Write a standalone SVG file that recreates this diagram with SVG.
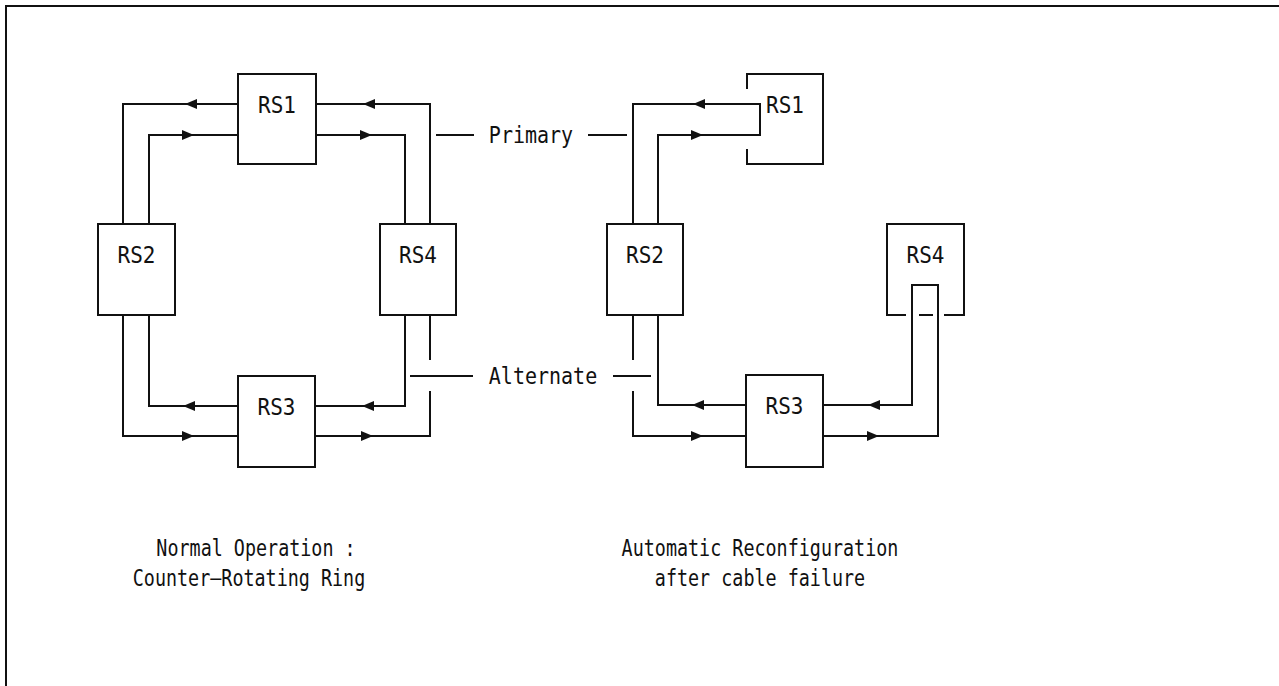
<svg xmlns="http://www.w3.org/2000/svg" xmlns:xlink="http://www.w3.org/1999/xlink" width="1279" height="686" viewBox="0 0 1279 686">
<style>
.ln{fill:none;stroke:#111;stroke-width:2;stroke-linecap:square}
.bx{fill:#fff;stroke:#111;stroke-width:2}
.t{font-family:"DejaVu Sans Mono","Liberation Mono",monospace;font-size:20px;fill:#111}
.c{text-anchor:middle}
.ah{fill:#111}
</style>
<defs>
<polygon id="ar" points="0,0 -12,-5 -12,5"/>
<polygon id="al" points="0,0 12,-5 12,5"/>
</defs>
<rect width="1279" height="686" fill="#fff"/>
<path class="ln" d="M6,686 V6 H1279"/>
<g id="connectors">
<path class="ln" d="M238,104 H123 V224"/>
<path class="ln" d="M149,224 V135 H238"/>
<path class="ln" d="M430,224 V104 H316"/>
<path class="ln" d="M316,135 H405 V224"/>
<path class="ln" d="M238,406 H149 V315"/>
<path class="ln" d="M123,315 V436 H238"/>
<path class="ln" d="M405,315 V406 H315"/>
<path class="ln" d="M315,436 H430 V392"/>
<path class="ln" d="M430,315 V359"/>
<g class="ah">
<use xlink:href="#al" x="185" y="104"/>
<use xlink:href="#ar" x="194" y="135"/>
<use xlink:href="#al" x="363" y="104"/>
<use xlink:href="#ar" x="372" y="135"/>
<use xlink:href="#al" x="183" y="406"/>
<use xlink:href="#ar" x="194" y="436"/>
<use xlink:href="#al" x="362" y="406"/>
<use xlink:href="#ar" x="373" y="436"/>
</g>
<path class="ln" d="M633,224 V104 H760 V135 H658 V224"/>
<path class="ln" d="M658,315 V405 H746"/>
<path class="ln" d="M633,315 V359"/>
<path class="ln" d="M633,392 V436 H746"/>
<path class="ln" d="M823,405 H912 V285 H938 V436 H823"/>
<g class="ah">
<use xlink:href="#al" x="693" y="104"/>
<use xlink:href="#ar" x="703" y="135"/>
<use xlink:href="#al" x="692" y="405"/>
<use xlink:href="#ar" x="703" y="436"/>
<use xlink:href="#al" x="868" y="405"/>
<use xlink:href="#ar" x="879" y="436"/>
</g>
<path class="ln" d="M437,135 H473 M589,135 H626"/>
<path class="ln" d="M411,376 H472 M614,376 H650"/>
</g>
<g id="label-primary"><text class="t c" transform="translate(531,143) scale(1,1.14)">Primary</text></g>
<g id="label-alternate"><text class="t c" transform="translate(543,384) scale(1,1.14)">Alternate</text></g>
<g id="rs1"><rect class="bx" x="238" y="74" width="78" height="90"/><text class="t c" transform="translate(277,113) scale(1.05,1.14)">RS1</text></g>
<g id="rs2"><rect class="bx" x="98" y="224" width="77" height="91"/><text class="t c" transform="translate(136.5,263) scale(1.05,1.14)">RS2</text></g>
<g id="rs4"><rect class="bx" x="380" y="224" width="76" height="91"/><text class="t c" transform="translate(418,263) scale(1.05,1.14)">RS4</text></g>
<g id="rs3"><rect class="bx" x="238" y="376" width="77" height="91"/><text class="t c" transform="translate(276.5,415) scale(1.05,1.14)">RS3</text></g>
<g id="rs1b"><path class="ln" d="M747,88 V74 H823 V164 H747 V150"/><text class="t c" transform="translate(785,113) scale(1.05,1.14)">RS1</text></g>
<g id="rs2b"><rect class="bx" x="607" y="224" width="76" height="91"/><text class="t c" transform="translate(645,263) scale(1.05,1.14)">RS2</text></g>
<g id="rs4b"><path class="ln" d="M905,315 H887 V224 H964 V315 H945 M920,315 H932"/><text class="t c" transform="translate(925.5,263) scale(1.05,1.14)">RS4</text></g>
<g id="rs3b"><rect class="bx" x="746" y="375" width="77" height="92"/><text class="t c" transform="translate(784.5,414) scale(1.05,1.14)">RS3</text></g>
<g id="captions">
<text class="t c" transform="translate(256,556) scale(0.92,1.12)">Normal Operation :</text>
<text class="t c" transform="translate(249,586) scale(0.92,1.12)">Counter—Rotating Ring</text>
<text class="t c" transform="translate(760,556) scale(0.92,1.12)">Automatic Reconfiguration</text>
<text class="t c" transform="translate(760,586) scale(0.92,1.12)">after cable failure</text>
</g>
</svg>
